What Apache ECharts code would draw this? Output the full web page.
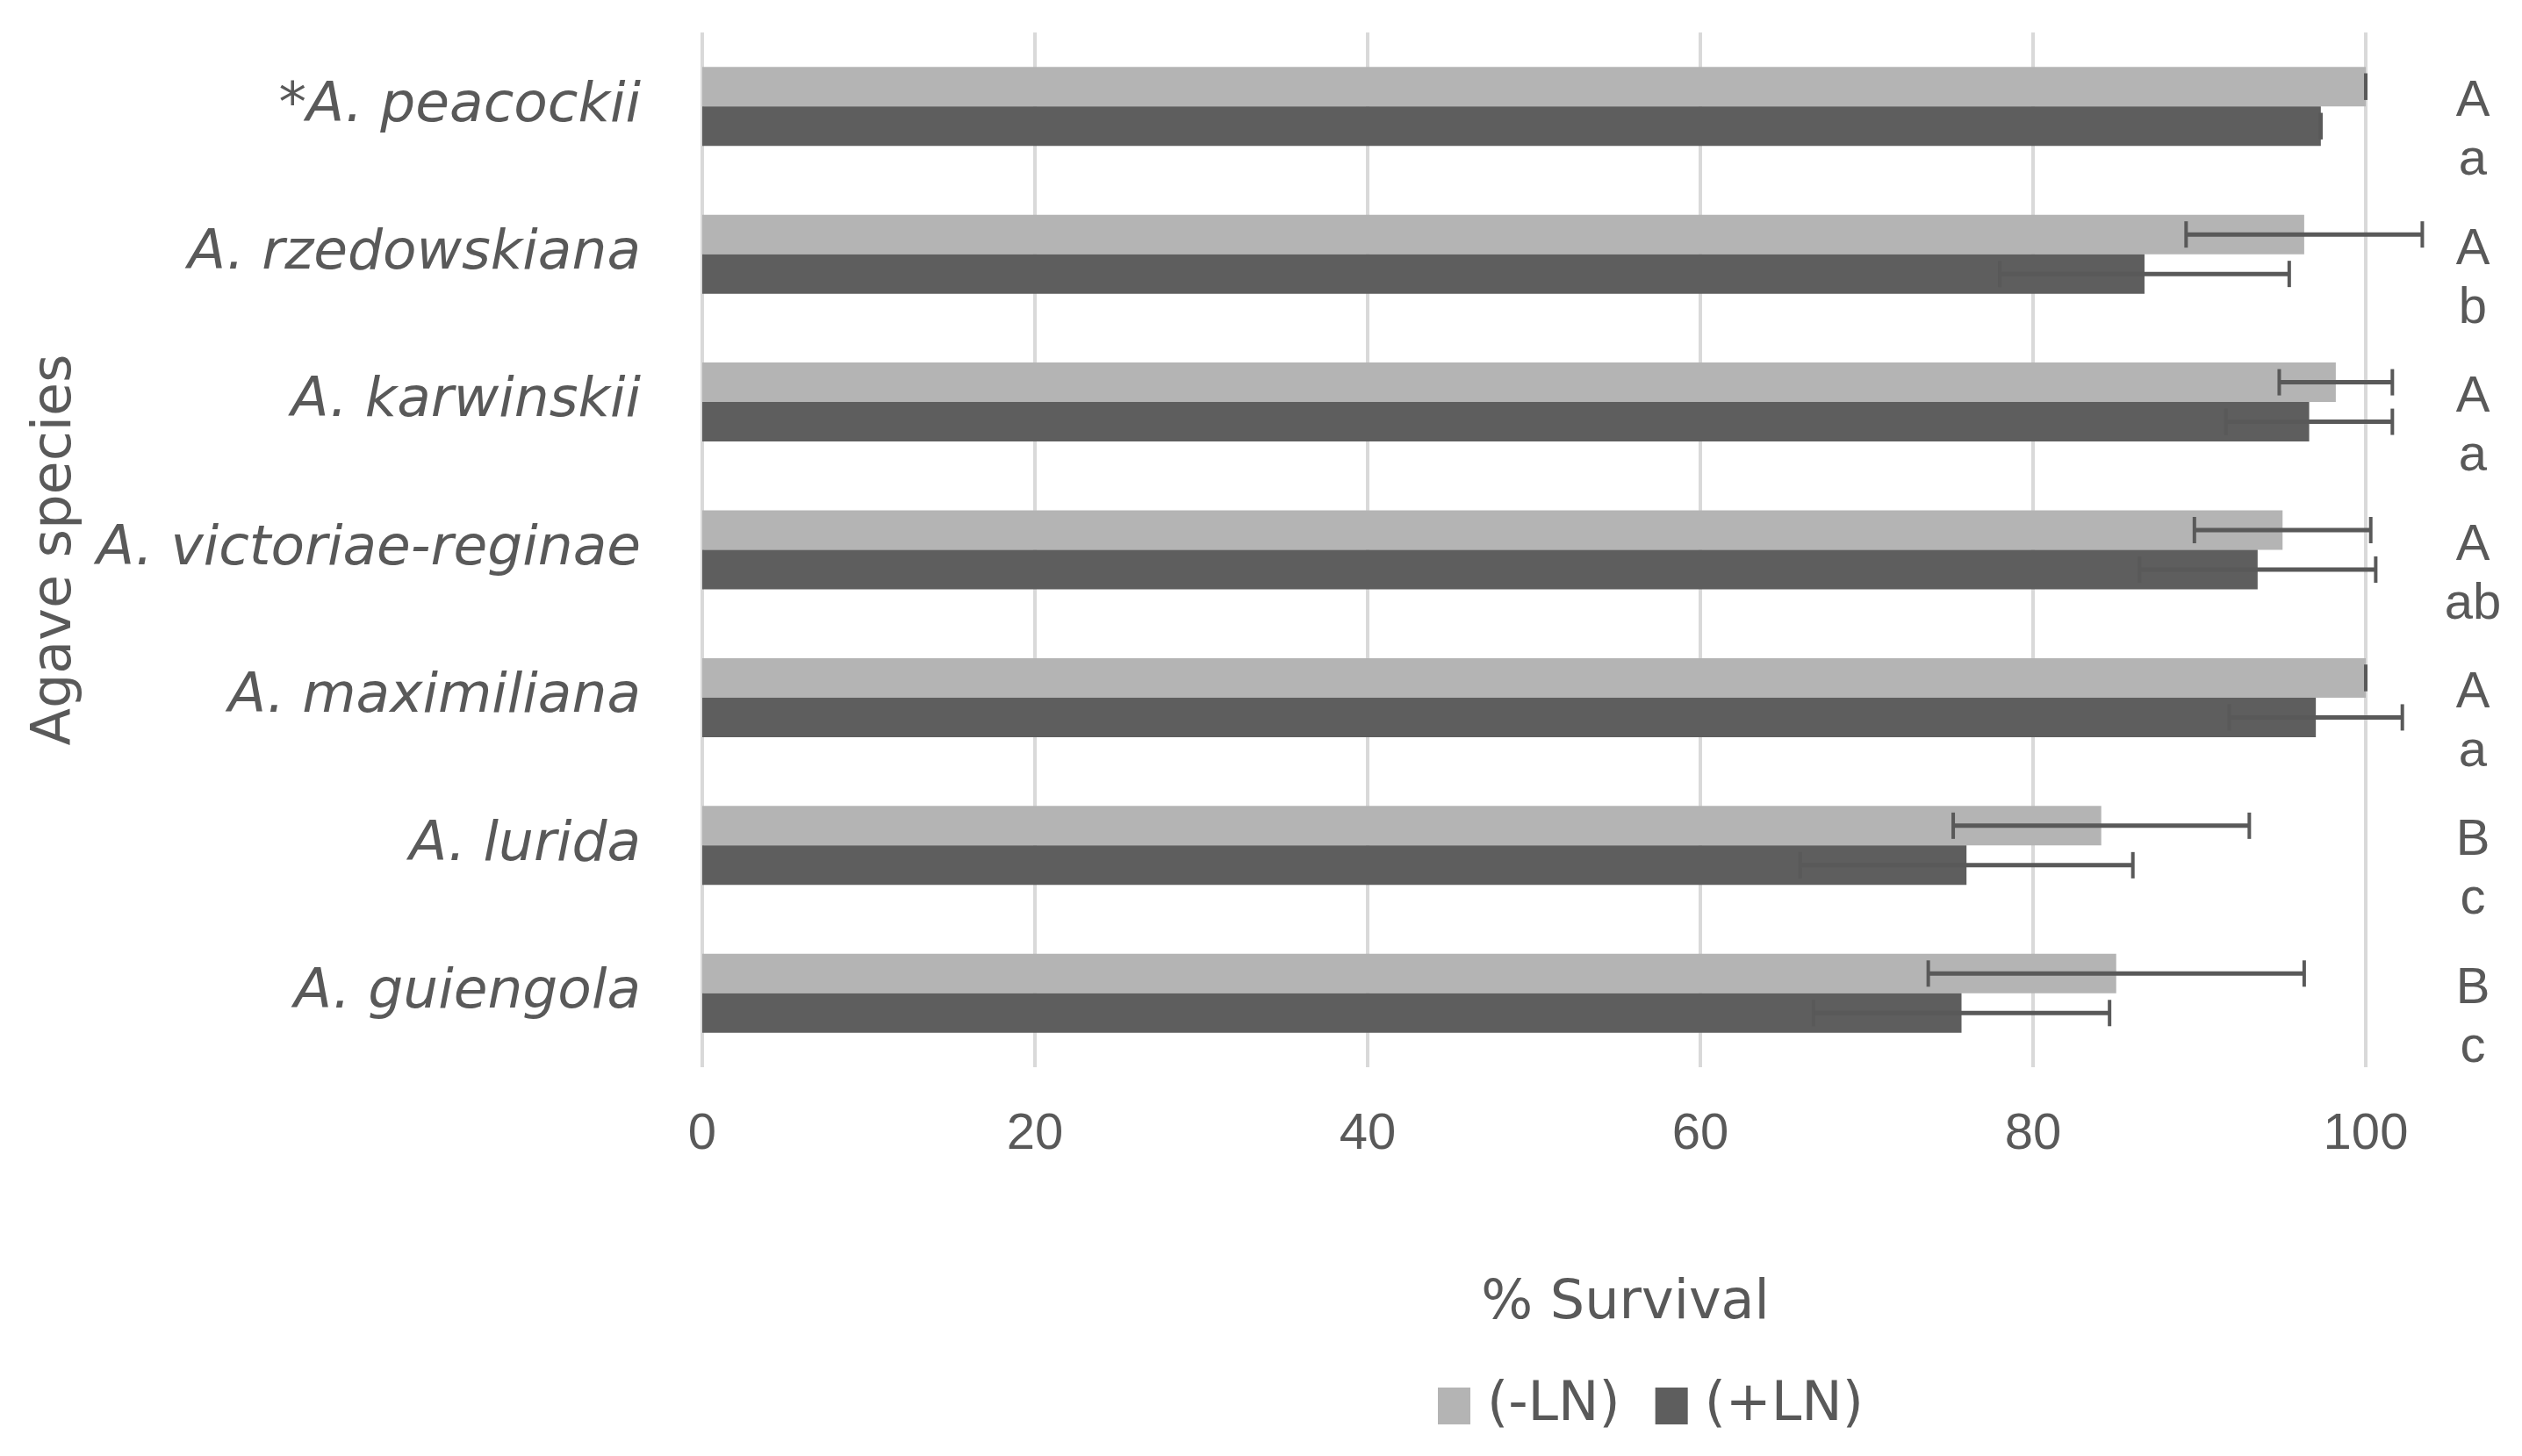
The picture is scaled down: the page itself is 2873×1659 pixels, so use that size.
<!DOCTYPE html>
<html>
<head>
<meta charset="utf-8">
<script src="https://cdn.jsdelivr.net/npm/echarts@6/dist/echarts.min.js"></script>
<style>
html,body{margin:0;padding:0;background:#fff;}
#chart{width:2873px;height:1659px;}
</style>
</head>
<body>
<div id="chart"></div>
<script>
const categories = ['*A. peacockii', 'A. rzedowskiana', 'A. karwinskii', 'A. victoriae-reginae', 'A. maximiliana', 'A. lurida', 'A. guiengola'];
const minusLN = [100, 96.3, 98.2, 95.0, 100, 84.1, 85.0];
const minusLNErr = [0, 7.1, 3.4, 5.3, 0, 8.9, 11.3];
const plusLN = [97.3, 86.7, 96.6, 93.5, 97.0, 76.0, 75.7];
const plusLNErr = [0, 8.7, 5.0, 7.1, 5.2, 10.0, 8.9];
const upperGroups = ['A', 'A', 'A', 'A', 'A', 'B', 'B'];
const lowerGroups = ['a', 'b', 'a', 'ab', 'a', 'c', 'c'];
const seriesNames = ['(-LN)', '(+LN)'];
const xAxisTitle = '% Survival';
const yAxisTitle = 'Agave species';

const BAR_W = 45;
const TEXT = '#595959';

function errData(means, errs) {
  return means.map((m, i) => [i, m - errs[i], m + errs[i]]);
}

function errRenderer(side) {
  return function (params, api) {
    const cat = api.value(0);
    const pLow = api.coord([api.value(1), cat]);
    const pHigh = api.coord([api.value(2), cat]);
    const y = pLow[1] + side * BAR_W / 2;
    const cap = 15;
    const barStyle = { stroke: '#595959', lineWidth: 5 };
    const capStyle = { stroke: '#595959', lineWidth: 4 };
    return {
      type: 'group',
      children: [
        { type: 'line', shape: { x1: pLow[0], y1: y, x2: pHigh[0], y2: y }, style: barStyle },
        { type: 'line', shape: { x1: pLow[0], y1: y - cap, x2: pLow[0], y2: y + cap }, style: capStyle },
        { type: 'line', shape: { x1: pHigh[0], y1: y - cap, x2: pHigh[0], y2: y + cap }, style: capStyle }
      ]
    };
  };
}

const chart = echarts.init(document.getElementById('chart'), null, { renderer: 'canvas' });
chart.setOption({
  animation: false,
  backgroundColor: '#ffffff',
  grid: { left: 800, right: 178, top: 37, bottom: 443, containLabel: false },
  legend: {
    data: seriesNames,
    left: 1638,
    top: 1571,
    icon: 'rect',
    itemWidth: 37,
    itemHeight: 42,
    itemGap: 40,
    padding: 0,
    textStyle: { fontFamily: 'DejaVu Sans', fontSize: 62, color: TEXT, padding: [0, 0, 0, 14] }
  },
  xAxis: {
    type: 'value',
    min: 0,
    max: 100,
    interval: 20,
    name: xAxisTitle,
    nameLocation: 'middle',
    nameGap: 239,
    nameTextStyle: { fontFamily: 'DejaVu Sans', fontSize: 62, color: TEXT, padding: [0, 0, 0, 208] },
    axisLine: { show: false },
    axisTick: { show: false },
    axisLabel: { fontFamily: 'Liberation Sans', fontSize: 58, color: TEXT, margin: 48 },
    splitLine: { show: true, lineStyle: { color: '#d9d9d9', width: 4 } }
  },
  yAxis: [
    {
      type: 'category',
      data: categories,
      inverse: true,
      name: yAxisTitle,
      nameLocation: 'middle',
      nameGap: 705,
      nameTextStyle: { fontFamily: 'DejaVu Sans', fontSize: 62, color: TEXT },
      axisLine: { show: false },
      axisTick: { show: false },
      axisLabel: { fontFamily: 'DejaVu Sans', fontStyle: 'italic', fontSize: 63, color: TEXT, margin: 70, interval: 0 }
    },
    {
      type: 'category',
      data: categories,
      inverse: true,
      position: 'right',
      axisLine: { show: false },
      axisTick: { show: false },
      splitLine: { show: false },
      axisLabel: {
        interval: 0,
        showMinLabel: true,
        showMaxLabel: true,
        hideOverlap: false,
        align: 'center',
        margin: 122,
        color: TEXT,
        formatter: function (v, i) { return '{e| }\n{u|' + upperGroups[i] + '}\n{l|' + lowerGroups[i] + '}'; },
        rich: {
          e: { fontSize: 10, lineHeight: 57 },
          u: { fontFamily: 'Liberation Sans', fontSize: 58, lineHeight: 67, color: TEXT, align: 'center' },
          l: { fontFamily: 'Liberation Sans', fontSize: 58, lineHeight: 67, color: TEXT, align: 'center' }
        }
      }
    }
  ],
  series: [
    {
      name: seriesNames[0],
      type: 'bar',
      data: minusLN,
      barWidth: BAR_W,
      barGap: '0%',
      itemStyle: { color: '#b4b4b4' },
      z: 2
    },
    {
      name: seriesNames[1],
      type: 'bar',
      data: plusLN,
      barWidth: BAR_W,
      barGap: '0%',
      itemStyle: { color: '#5e5e5e' },
      z: 2
    },
    {
      name: 'err-minus',
      type: 'custom',
      data: errData(minusLN, minusLNErr),
      encode: { x: [1, 2], y: 0 },
      renderItem: errRenderer(-1),
      z: 5,
      silent: true
    },
    {
      name: 'err-plus',
      type: 'custom',
      data: errData(plusLN, plusLNErr),
      encode: { x: [1, 2], y: 0 },
      renderItem: errRenderer(1),
      z: 5,
      silent: true
    }
  ]
});
</script>
</body>
</html>
